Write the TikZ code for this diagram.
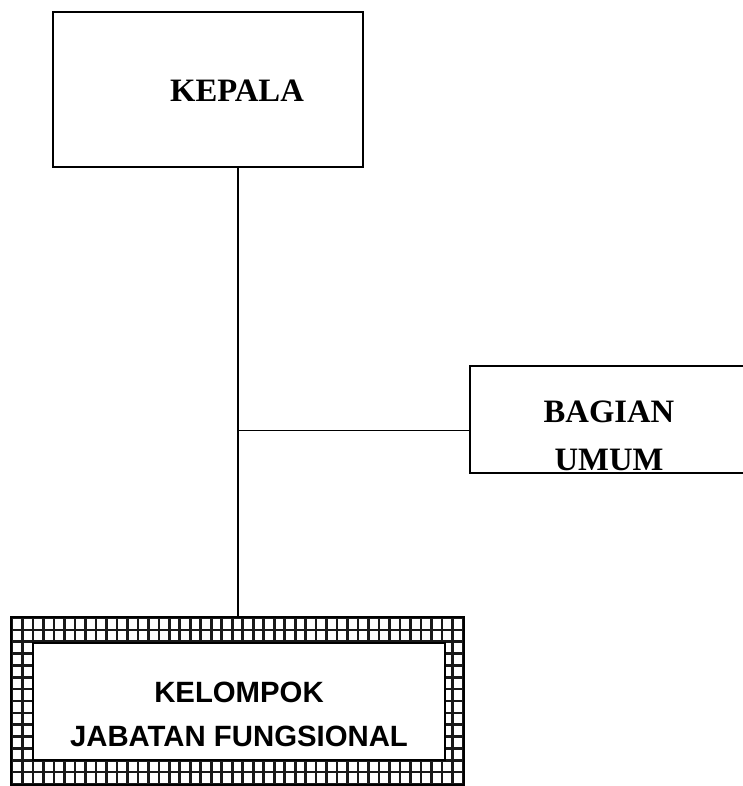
\documentclass[tikz,border=0pt]{standalone}
\usepackage{fontspec}
\setmainfont{Liberation Serif}
\setsansfont{Liberation Sans}
\usetikzlibrary{positioning, calc}

\begin{document}
\begin{tikzpicture}[x=0.75pt, y=-0.75pt,
    unit/.style={rectangle, draw, line width=1.5pt, inner sep=0pt},
    judul/.style={font=\rmfamily\bfseries\fontsize{24.5}{36}\selectfont, align=center, inner sep=0pt},
    jfg/.style={font=\sffamily\bfseries\fontsize{22}{33}\selectfont, align=center, inner sep=0pt},
    kisi/.style={line width=2pt, black!90},
    garis/.style={line width=1.5pt}]

  \clip (0,0) rectangle (743,786);

  % kotak unit
  \node[unit, minimum width=232.5pt, minimum height=116.25pt] (kepala) at (208,89.5) {};
  \node[unit, line width=1.1pt, minimum width=208.5pt, minimum height=80.25pt] (bagian) at (609,419.5) {};

  % kelompok jabatan fungsional, bingkai berkisi
  \node[unit, minimum width=338.25pt, minimum height=124.5pt] (kfg) at (237.5,701) {};
  \foreach \i in {0,...,43}
    \draw[kisi] ($(12,618)+(\i*10.4884,0)$) -- ++(0,166);
  \foreach \j in {0,...,14}
    \draw[kisi] ($(12,618)+(0,\j*11.857)$) -- ++(451,0);
  \draw[line width=2.2pt] (kfg.south west) rectangle (kfg.north east);
  \node[unit, line width=2pt, fill=white, minimum width=309pt, minimum height=87.75pt] (kfg-isi) at (239,701.5) {};

  % teks
  \node[judul] (kepala-teks) at (237,91) {KEPALA};
  \node[judul] (bagian-teks) at (609,436) {BAGIAN\\UMUM};
  \node[jfg] (kfg-teks) at (239,714) {KELOMPOK\\JABATAN FUNGSIONAL};

  % garis hubung
  \draw[garis] (kfg.north |- kepala.south) -- (kfg.north);
  \coordinate (cabang) at ($(kfg.north |- kepala.south)!0.585!(kfg.north)$);
  \draw[line width=1.1pt] (cabang) -- (cabang -| bagian.west);
\end{tikzpicture}
\end{document}
